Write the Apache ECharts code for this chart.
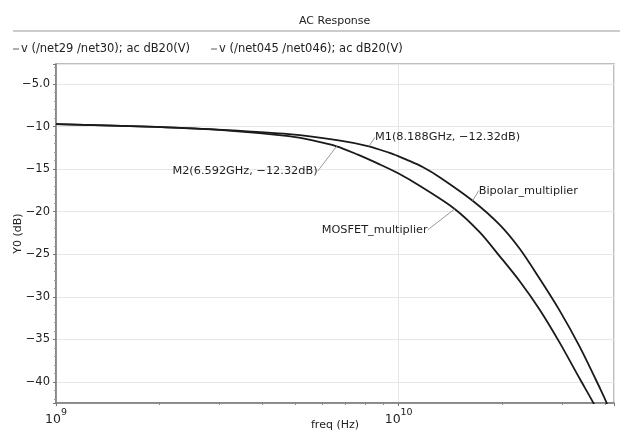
<!DOCTYPE html>
<html>
<head>
<meta charset="utf-8">
<script src="https://cdn.jsdelivr.net/npm/echarts@6/dist/echarts.min.js"></script>
<style>html,body{margin:0;padding:0;background:#fff}#c{width:620px;height:433px}</style>
</head>
<body>
<div id="c"></div>
<script>
// ---- data ----
const titleText = 'AC Response';
const legendNames = ['v (/net29 /net30); ac dB20(V)', 'v (/net045 /net046); ac dB20(V)'];
const xName = 'freq (Hz)';
const yName = 'Y0 (dB)';
const xMin = 1e9, xMax = 4.25e10;
const yMin = -42.46, yMax = -2.66;
const ySplitNumber = 8;
const yTickStep = 5;
const xMinorTicks = [2e9,3e9,4e9,5e9,6e9,7e9,8e9,9e9,2e10,3e10,4e10];

// Bipolar multiplier (frequency GHz, dB)
const bipFreqGHz = [1.0,1.957,3.06,4.78,6.68,8.188,9.41,10.0,10.5,11.75,13.17,16.44,19.70,22.53,25.77,29.47,33.71,38.55,40.33,40.95];
const bipDb      = [-9.73,-10.05,-10.40,-10.90,-11.63,-12.32,-13.1,-13.5,-13.85,-14.75,-15.95,-18.71,-21.52,-24.33,-27.85,-31.59,-35.81,-40.61,-42.33,-43.3];
// MOSFET multiplier (frequency GHz, dB)
const mosFreqGHz = [1.0,1.957,3.06,4.78,5.61,6.592,7.60,8.80,10.0,11.51,14.57,17.23,19.70,22.53,25.77,29.47,33.71,36.86,37.79];
const mosDb      = [-9.73,-10.05,-10.42,-11.14,-11.63,-12.32,-13.30,-14.44,-15.52,-16.96,-19.68,-22.40,-25.21,-28.14,-31.48,-35.34,-39.56,-42.33,-43.2];

// annotations: [freq GHz, dB, text]
const markerM1 = [8.188, -12.32, 'M1(8.188GHz, \u221212.32dB)'];
const markerM2 = [6.592, -12.32, 'M2(6.592GHz, \u221212.32dB)'];
const labelMos = [14.57, -19.68, 'MOSFET_multiplier'];
const labelBip = [16.44, -18.71, 'Bipolar_multiplier'];

const FONT = 'DejaVu Sans';
const toPts = (f, d) => f.map((v, i) => [v * 1e9, d[i]]);
const minus = s => String(s).replace('-', '\u2212');

const chart = echarts.init(document.getElementById('c'), null, {renderer: 'canvas'});
const annStyle = {color: '#1e1e1e', fontFamily: FONT, fontSize: 11.3};
// label placement (dx, dy) per annotation, relative to default position
const annShift = [[2, -9], [-15, 25], [-23, 21], [2, -10]];
function ann(m, pos) {
  return {
    value: [m[0] * 1e9, m[1]],
    label: Object.assign({show: true, position: pos, distance: 4, formatter: m[2]}, annStyle)
  };
}

chart.setOption({
  animation: false,
  textStyle: {fontFamily: FONT},
  title: {
    text: titleText, left: 294, top: 11,
    textStyle: {fontSize: 11, fontWeight: 'normal', color: '#222', fontFamily: FONT}
  },
  graphic: [{
    type: 'line', shape: {x1: 13, y1: 31, x2: 620, y2: 31},
    style: {stroke: '#9a9a9a', lineWidth: 1.2}, silent: true
  }],
  legend: {
    data: legendNames, left: 8, top: 38, itemGap: 21,
    icon: 'rect', itemWidth: 6, itemHeight: 1.2,
    itemStyle: {color: '#777'},
    textStyle: {fontSize: 11.5, color: '#222', fontFamily: FONT, padding: [0, 0, 0, -3]}
  },
  grid: {
    left: 56, right: 6, top: 64, bottom: 30, containLabel: false, outerBoundsMode: 'none',
    show: true, borderColor: '#a8a8a8', borderWidth: 1.5, backgroundColor: '#fff'
  },
  xAxis: [{
    type: 'log', logBase: 10, min: xMin, max: xMax,
    name: xName, nameLocation: 'middle', nameGap: 17, nameMoveOverlap: false,
    nameTextStyle: {fontSize: 11, color: '#222', fontFamily: FONT},
    axisLine: {show: true, lineStyle: {color: '#777', width: 1.5}},
    axisTick: {show: true, length: 3, lineStyle: {color: '#777'}},
    splitLine: {show: true, lineStyle: {color: '#e6e6e6', width: 1}},
    minorTick: {show: false},
    axisLabel: {
      margin: 5,
      formatter: v => {
        const e = Math.log10(v);
        if (Math.abs(e - Math.round(e)) > 1e-6) return '';
        return '{b|10}{s|' + Math.round(e) + '}';
      },
      rich: {
        b: {fontSize: 12.5, color: '#222', fontFamily: FONT, verticalAlign: 'bottom'},
        s: {fontSize: 9.5, color: '#222', fontFamily: FONT, verticalAlign: 'top', padding: [0, 0, 8, 0]}
      }
    }
  }, {
    type: 'value', min: Math.log10(xMin), max: Math.log10(xMax), position: 'bottom',
    axisLine: {show: false}, axisLabel: {show: false}, splitLine: {show: false},
    axisTick: {show: true, length: 2, customValues: xMinorTicks.map(v => Math.log10(v)), lineStyle: {color: '#888'}}
  }],
  yAxis: {
    type: 'value', min: yMin, max: yMax, splitNumber: ySplitNumber,
    name: yName, nameLocation: 'middle', nameGap: 32, nameMoveOverlap: false,
    nameTextStyle: {fontSize: 11, color: '#222', fontFamily: FONT},
    axisLine: {show: true, lineStyle: {color: '#777', width: 1.5}},
    axisTick: {show: true, length: 3, lineStyle: {color: '#777'}},
    minorTick: {show: true, splitNumber: 5, length: 2, lineStyle: {color: '#999'}},
    splitLine: {show: true, lineStyle: {color: '#e6e6e6', width: 1}},
    axisLabel: {
      margin: 6, fontSize: 11.5, color: '#222', fontFamily: FONT,
      showMinLabel: true, showMaxLabel: true,
      formatter: v => {
        const r = Math.round(v);
        if (Math.abs(v - r) > 1e-6 || r % yTickStep !== 0) return '';
        return r === -5 ? '\u22125.0' : minus(r);
      }
    }
  },
  series: [{
    name: legendNames[0], type: 'line', xAxisIndex: 0, data: toPts(bipFreqGHz, bipDb),
    showSymbol: false, smooth: 0.3, clip: true,
    lineStyle: {color: '#1a1a1a', width: 1.8}, itemStyle: {color: '#1a1a1a'}
  }, {
    name: legendNames[1], type: 'line', xAxisIndex: 0, data: toPts(mosFreqGHz, mosDb),
    showSymbol: false, smooth: 0.3, clip: true,
    lineStyle: {color: '#1a1a1a', width: 1.8}, itemStyle: {color: '#1a1a1a'}
  }, {
    name: 'annotations', type: 'scatter', xAxisIndex: 0, symbolSize: 0.1,
    itemStyle: {color: '#000', opacity: 1}, silent: true, z: 5,
    labelLine: {show: true, lineStyle: {color: '#999', width: 1}},
    labelLayout: p => ({dx: annShift[p.dataIndex][0], dy: annShift[p.dataIndex][1]}),
    data: [
      ann(markerM1, 'right'),
      ann(markerM2, 'left'),
      ann(labelMos, 'left'),
      ann(labelBip, 'right')
    ]
  }]
});
</script>
</body>
</html>
